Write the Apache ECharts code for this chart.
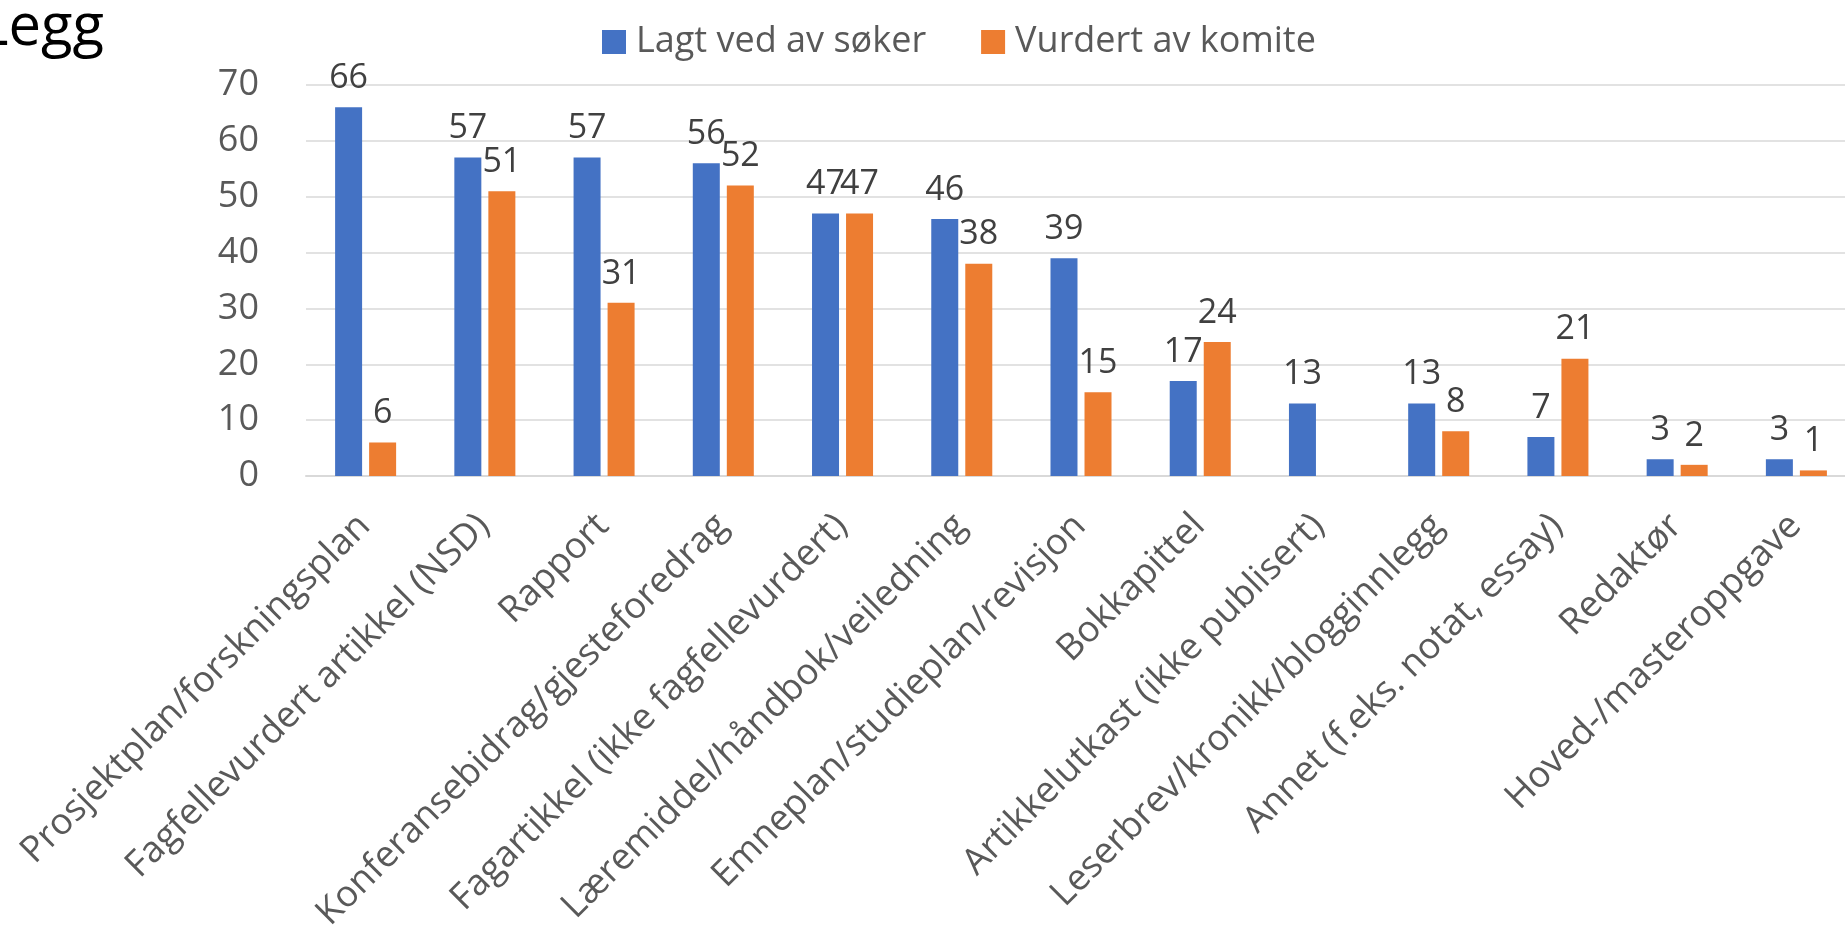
<!DOCTYPE html>
<html>
<head>
<meta charset="utf-8">
<script src="https://cdn.jsdelivr.net/npm/echarts@6/dist/echarts.min.js"></script>
<style>
  html, body { margin: 0; padding: 0; background: #fff; }
  #chart { width: 1845px; height: 931px; }
</style>
</head>
<body>
<div id="chart"></div>
<script>
var categories = ['Prosjektplan/forskningsplan', 'Fagfellevurdert artikkel (NSD)', 'Rapport',
    'Konferansebidrag/gjesteforedrag', 'Fagartikkel (ikke fagfellevurdert)', 'Læremiddel/håndbok/veiledning',
    'Emneplan/studieplan/revisjon', 'Bokkapittel', 'Artikkelutkast (ikke publisert)',
    'Leserbrev/kronikk/blogginnlegg', 'Annet (f.eks. notat, essay)', 'Redaktør', 'Hoved-/masteroppgave'];
var lagtVed = [66, 57, 57, 56, 47, 46, 39, 17, 13, 13, 7, 3, 3];
var vurdert = [6, 51, 31, 52, 47, 38, 15, 24, null, 8, 21, 2, 1];
var seriesNames = ['Lagt ved av søker', 'Vurdert av komite'];

var font = 'Open Sans';

var option = {
    animation: false,
    color: ['#4472C4', '#ED7D31'],
    textStyle: { fontFamily: font },
    graphic: [{
        type: 'text',
        style: {
            x: 104, y: 28, text: 'Legg', align: 'right', verticalAlign: 'middle',
            font: '58px "Open Sans"', fill: '#000'
        }
    }],
    legend: {
        left: 597, top: 19,
        itemWidth: 24, itemHeight: 24, itemGap: 55,
        icon: 'rect',
        textStyle: { fontSize: 36, color: '#595959', fontFamily: font, padding: [0, 0, 0, 5] },
        data: seriesNames
    },
    grid: { left: 306, top: 85, width: 1550, height: 391, containLabel: false, outerBoundsMode: 'none' },
    xAxis: {
        type: 'category',
        data: categories,
        axisTick: { show: false },
        axisLine: { lineStyle: { color: '#d9d9d9', width: 2 } },
        axisLabel: {
            interval: 0, rotate: 45, margin: 17,
            align: 'right', verticalAlign: 'top',
            padding: [0, 20, 0, 0],
            fontSize: 36.5, color: '#595959', fontFamily: font
        }
    },
    yAxis: {
        type: 'value', min: 0, max: 70, interval: 10,
        axisLine: { show: false },
        axisTick: { show: false },
        splitLine: { lineStyle: { color: '#d9d9d9', width: 1.5 } },
        axisLabel: { margin: 47, fontSize: 36, color: '#595959', fontFamily: font }
    },
    series: [{
        name: seriesNames[0], type: 'bar', data: lagtVed,
        barWidth: 27, barGap: '26%',
        label: { show: true, position: 'top', distance: 12, fontSize: 34, color: '#404040', fontFamily: font }
    }, {
        name: seriesNames[1], type: 'bar', data: vurdert,
        barWidth: 27,
        label: { show: true, position: 'top', distance: 12, fontSize: 34, color: '#404040', fontFamily: font }
    }]
};

var myChart = echarts.init(document.getElementById('chart'));
myChart.setOption(option);
</script>
</body>
</html>
